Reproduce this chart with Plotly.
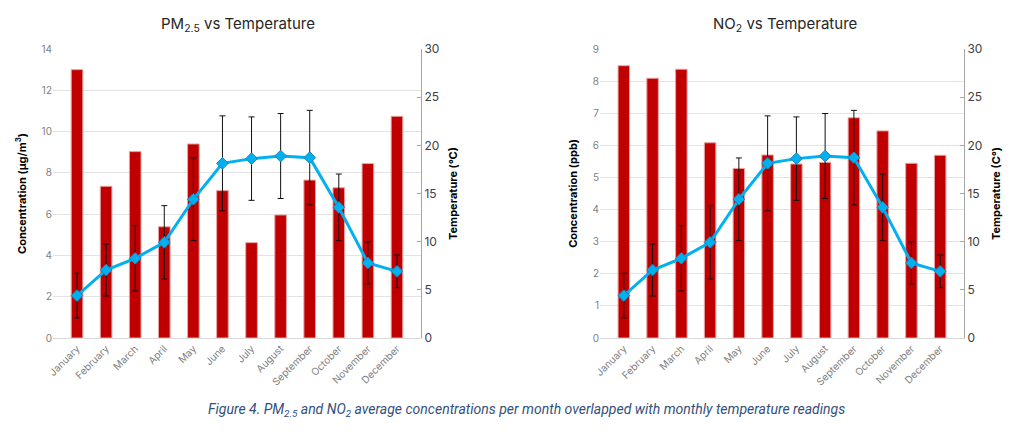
import plotly.graph_objects as go
from plotly.subplots import make_subplots

months = ["January", "February", "March", "April", "May", "June", "July",
          "August", "September", "October", "November", "December"]
pm25 = [13.0, 7.35, 9.03, 5.39, 9.40, 7.14, 4.62, 5.96, 7.65, 7.28, 8.45, 10.74]
no2 = [8.48, 8.09, 8.37, 6.08, 5.28, 5.70, 5.42, 5.47, 6.86, 6.45, 5.44, 5.69]
temperature = [4.4, 7.06, 8.27, 9.93, 14.4, 18.13, 18.62, 18.89, 18.72, 13.56, 7.79, 6.92]
temp_err = [2.32, 2.7, 3.39, 3.81, 4.29, 4.93, 4.33, 4.41, 4.91, 3.46, 2.18, 1.69]

BAR = "#c00000"
LINE = "#00b0f0"
FONT = "Inter, Roboto, 'Open Sans', sans-serif"
W, H, OFF = 1024, 440, 8  # page body margin offset


def px_x(x):
    return (x - OFF) / W


def px_y(y):
    return 1 - (y - OFF) / H


fig = make_subplots(rows=1, cols=2,
                    specs=[[{"secondary_y": True}, {"secondary_y": True}]])

for col, conc in ((1, pm25), (2, no2)):
    fig.add_trace(go.Bar(x=months, y=conc, marker=dict(color=BAR, line=dict(color="#e9a3a3", width=1)),
                         showlegend=False), row=1, col=col, secondary_y=False)
    fig.add_trace(go.Scatter(x=months, y=temperature, mode="lines+markers",
                             line=dict(color=LINE, width=3),
                             marker=dict(symbol="diamond", size=9, color=LINE,
                                         line=dict(color="#1b86b5", width=1)),
                             error_y=dict(type="data", array=temp_err, visible=True,
                                          color="#111111", thickness=1, width=3),
                             showlegend=False), row=1, col=col, secondary_y=True)

fig.update_layout(
    width=W, height=H, margin=dict(l=0, r=0, t=0, b=0),
    paper_bgcolor="white", plot_bgcolor="white",
    font=dict(family=FONT, color="#595959"),
    bargap=0.6,
    xaxis=dict(domain=[px_x(53), px_x(421)]),
    xaxis2=dict(domain=[px_x(600), px_x(964)]),
)
ydom = [px_y(338), px_y(49)]
fig.update_xaxes(tickangle=-45, tickfont=dict(size=10, color="#7f7f7f"),
                 showline=True, linecolor="#d9d9d9", linewidth=1, ticks="",
                 showgrid=False, automargin=False)
fig.update_yaxes(domain=ydom, automargin=False)

# primary axes
fig.update_yaxes(range=[0, 14], dtick=2, showgrid=True, gridcolor="#e3e3e3",
                 tickfont=dict(size=10, color="#7f7f7f"), zeroline=False,
                 title=dict(text="<b>Concentration (μg/m<sup>3</sup>)</b>",
                            font=dict(size=11, color="#000000"), standoff=12),
                 row=1, col=1, secondary_y=False)
fig.update_yaxes(range=[0, 9], dtick=1, showgrid=True, gridcolor="#e3e3e3",
                 tickfont=dict(size=10, color="#7f7f7f"), zeroline=False,
                 title=dict(text="<b>Concentration (ppb)</b>",
                            font=dict(size=11, color="#000000"), standoff=12),
                 row=1, col=2, secondary_y=False)
# secondary axes
for col, ttl in ((1, "Temperature (°C)"), (2, "Temperature (C°)")):
    fig.update_yaxes(range=[0, 30], dtick=5, showgrid=False, zeroline=False,
                     showline=True, linecolor="#a6a6a6", linewidth=1,
                     ticks="inside", ticklen=4, tickcolor="#a6a6a6",
                     tickfont=dict(size=12, color="#404040"),
                     title=dict(text="<b>" + ttl + "</b>",
                                font=dict(size=11, color="#000000"), standoff=10),
                     row=1, col=col, secondary_y=True)

fig.add_annotation(text="PM<sub>2.5</sub> vs Temperature", x=px_x(238), y=px_y(24),
                   xref="paper", yref="paper", showarrow=False,
                   xanchor="center", yanchor="middle",
                   font=dict(size=15, color="#262626"))
fig.add_annotation(text="NO<sub>2</sub> vs Temperature", x=px_x(785), y=px_y(24),
                   xref="paper", yref="paper", showarrow=False,
                   xanchor="center", yanchor="middle",
                   font=dict(size=15, color="#262626"))
fig.add_annotation(
    text="<i>Figure 4. PM<sub>2.5</sub> and NO<sub>2</sub> average concentrations per month overlapped with monthly temperature readings</i>",
    x=px_x(526), y=px_y(410), xref="paper", yref="paper", showarrow=False,
    xanchor="center", yanchor="middle",
    font=dict(size=14, color="#34507a", family="Roboto, sans-serif"))

fig.write_html("out.html")
